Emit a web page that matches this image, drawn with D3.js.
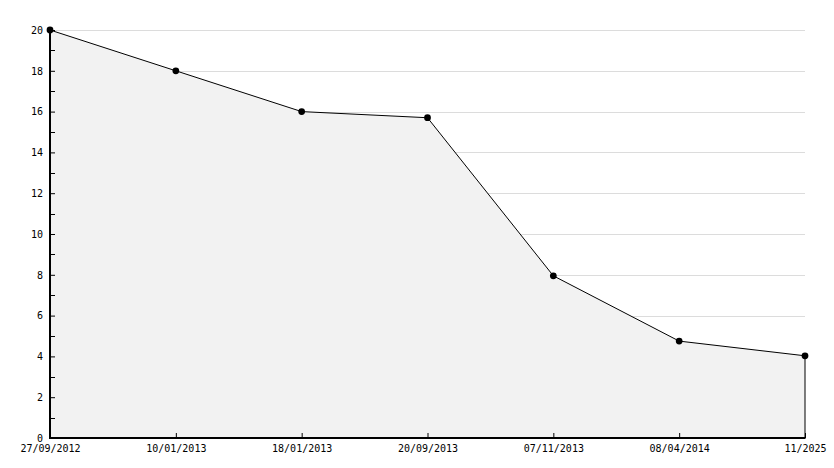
<!DOCTYPE html>
<html><head><meta charset="utf-8">
<script src="https://cdn.jsdelivr.net/npm/d3@7"></script>
<style>
html,body{margin:0;padding:0;background:#fff;}
svg{display:block;}
text{font-family:"DejaVu Sans Mono",monospace;font-size:10px;fill:#000;}
</style></head><body>
<svg id="c" width="834" height="468"></svg>
<script>
const categories = ["27/09/2012","10/01/2013","18/01/2013","20/09/2013","07/11/2013","08/04/2014","11/2025"];
const values = [20, 18, 16, 15.7, 7.95, 4.75, 4.03];
const yTicks = [0,2,4,6,8,10,12,14,16,18,20];
const yMinorTicks = [1,3,5,7,9,11,13,15,17,19];

const svg = d3.select("#c");
const L = 50, R = 805, T = 30, B = 438;
const x = d3.scalePoint().domain(categories).range([L, R]);
const y = d3.scaleLinear().domain([0, 20]).range([B, T]);

// gridlines
svg.append("g").selectAll("line").data(yTicks.filter(d => d > 0)).join("line")
  .attr("x1", L).attr("x2", R)
  .attr("y1", d => Math.round(y(d)) + 0.5).attr("y2", d => Math.round(y(d)) + 0.5)
  .attr("stroke", "#dcdcdc").attr("stroke-width", 1);

// area
const pts = categories.map((c, i) => [x(c), y(values[i])]);
const area = d3.area().x(d => d[0]).y0(B).y1(d => d[1]);
svg.append("path").datum(pts).attr("d", area).attr("fill", "#f2f2f2");

// right edge line
svg.append("line").attr("x1", x(categories[categories.length-1])).attr("x2", x(categories[categories.length-1]))
  .attr("y1", y(values[values.length-1])).attr("y2", B).attr("stroke", "#000").attr("stroke-width", 1);

// line
svg.append("path").datum(pts).attr("d", d3.line()).attr("fill", "none").attr("stroke", "#000").attr("stroke-width", 1);

// y axis
const ya = svg.append("g").attr("transform", `translate(${L},0)`)
  .call(d3.axisLeft(y).tickValues(yTicks).tickSize(-5).tickPadding(7).tickFormat(d3.format("d")));
ya.select(".domain").remove();
ya.selectAll(".tick line").attr("stroke", "#000");
ya.selectAll("text").style("font-family", '"DejaVu Sans Mono",monospace').style("font-size", "10px");
svg.append("g").selectAll("line").data(yMinorTicks).join("line")
  .attr("x1", L).attr("x2", L + 5)
  .attr("y1", d => Math.round(y(d)) + 0.5).attr("y2", d => Math.round(y(d)) + 0.5)
  .attr("stroke", "#000");
svg.append("line").attr("x1", L).attr("x2", L).attr("y1", T).attr("y2", B + 1)
  .attr("stroke", "#000").attr("stroke-width", 2);

// x axis
const xa = svg.append("g").attr("transform", `translate(0,${B})`)
  .call(d3.axisBottom(x).tickSize(-5).tickPadding(7));
xa.select(".domain").remove();
xa.selectAll(".tick line").attr("stroke", "#000");
xa.selectAll("text").style("font-family", '"DejaVu Sans Mono",monospace').style("font-size", "10px");
svg.append("line").attr("x1", L - 1).attr("x2", R + 0.5).attr("y1", B).attr("y2", B)
  .attr("stroke", "#000").attr("stroke-width", 2);

// markers
svg.append("g").selectAll("path").data(pts).join("path")
  .attr("transform", d => `translate(${d[0]},${d[1]})`)
  .attr("d", d3.symbol().type(d3.symbolCircle).size(36))
  .attr("fill", "#000");
</script>
</body></html>
